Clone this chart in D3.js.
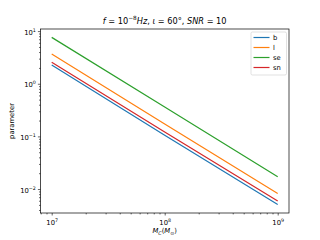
<!DOCTYPE html>
<html><head><meta charset="utf-8">
<script src="https://cdn.jsdelivr.net/npm/d3@7"></script>
<style>body{margin:0;background:#fff}svg{display:block;font-family:"DejaVu Sans",sans-serif}</style>
</head><body><svg id="c" width="320" height="240"></svg>
<script>
const masses = [1e7, 1e8, 1e9];
const seriesNames = ["b", "l", "se", "sn"];
const bValues = [2.26, 0.105, 0.0051];
const lValues = [3.66, 0.172, 0.0082];
const seValues = [7.6, 0.36, 0.0172];
const snValues = [2.55, 0.121, 0.0059];
const colors = ["#1f77b4", "#ff7f0e", "#2ca02c", "#d62728"];
const xTicks = [1e7, 1e8, 1e9];
const yTicks = [1e-2, 1e-1, 1e0, 1e1];

const svg = d3.select("#c");
const L = 40.4, R = 289, T = 29, B = 213;
const x = d3.scaleLog().domain([Math.pow(10, 6.9), Math.pow(10, 9.1)]).range([L, R]);
const y = d3.scaleLog().domain([Math.pow(10, -2.455), Math.pow(10, 1.04)]).range([B, T]);

function expo(d){ return String(Math.round(Math.log10(d))).replace("-", "\u2212"); }
function label(sel){
  sel.each(function(d){
    const t = d3.select(this); t.text("");
    t.append("tspan").text("10");
    t.append("tspan").attr("font-size", 4.8).attr("dy", -3).text(expo(d));
  });
}

function minors(lo, hi){ const a=[]; for(let e=lo;e<=hi;e++){ for(let k=2;k<=9;k++) a.push(k*Math.pow(10,e)); } return a; }
const xMinor = minors(6, 9).filter(v => v >= x.domain()[0] && v <= x.domain()[1]);
const yMinor = minors(-3, 1).filter(v => v >= y.domain()[0] && v <= y.domain()[1]);

// lines
const allSeries = [bValues, lValues, seValues, snValues];
const line = d3.line().x((d,i)=>x(masses[i])).y(d=>y(d));
allSeries.forEach((s, i) => {
  svg.append("path").datum(s).attr("d", line).attr("fill","none")
    .attr("stroke", colors[i]).attr("stroke-width", 1.2);
});

// axes
const xAxis = svg.append("g").attr("transform", `translate(0,${B})`)
  .call(d3.axisBottom(x).tickValues(xTicks).tickFormat(d=>d).tickSizeOuter(0).tickSize(2.5).tickPadding(2.5));
const xAxisMinor = svg.append("g").attr("transform", `translate(0,${B})`)
  .call(d3.axisBottom(x).tickValues(xMinor).tickFormat("").tickSizeOuter(0).tickSize(1.4));
const yAxis = svg.append("g").attr("transform", `translate(${L},0)`)
  .call(d3.axisLeft(y).tickValues(yTicks).tickFormat(d=>d).tickSizeOuter(0).tickSize(2.5).tickPadding(2));
const yAxisMinor = svg.append("g").attr("transform", `translate(${L},0)`)
  .call(d3.axisLeft(y).tickValues(yMinor).tickFormat("").tickSizeOuter(0).tickSize(1.4));
[xAxis, xAxisMinor, yAxis, yAxisMinor].forEach(g => {
  g.select(".domain").remove();
  g.selectAll("line").attr("stroke", "#000").attr("stroke-width", 0.6);
  g.selectAll("text").attr("font-size", 6.8).attr("fill", "#000").attr("font-family", "DejaVu Sans");
});
xAxis.selectAll("text").attr("dy", "1.1em").call(label);
yAxis.selectAll("text").attr("dy", "0.45em").call(label);

// frame
svg.append("rect").attr("x", L).attr("y", T).attr("width", R - L).attr("height", B - T)
  .attr("fill", "none").attr("stroke", "#000").attr("stroke-width", 0.7);

// title
const title = svg.append("text").attr("x", (L + R) / 2).attr("y", 23.5).attr("text-anchor", "middle")
  .attr("font-size", 8.2).attr("fill", "#000");
title.append("tspan").attr("font-style", "italic").text("f");
title.append("tspan").text(" = 10");
title.append("tspan").attr("font-size", 5.8).attr("dy", -3.2).text("\u22128");
title.append("tspan").attr("dy", 3.2).attr("font-style", "italic").text("Hz");
title.append("tspan").text(", ");
title.append("tspan").attr("font-style", "italic").text("\u03B9");
title.append("tspan").text(" = 60\u00B0, ");
title.append("tspan").attr("font-style", "italic").text("SNR");
title.append("tspan").text(" = 10");

// axis labels
const xl = svg.append("text").attr("x", (L + R) / 2).attr("y", 233).attr("text-anchor", "middle")
  .attr("font-size", 6.8).attr("fill", "#000");
xl.append("tspan").attr("font-style", "italic").text("M");
xl.append("tspan").attr("font-style", "italic").attr("font-size", 4.8).attr("dy", 1.5).text("C");
xl.append("tspan").attr("dy", -1.5).text("(");
xl.append("tspan").attr("font-style", "italic").text("M");
xl.append("tspan").attr("font-size", 4.8).attr("dy", 1.5).text("\u2299");
xl.append("tspan").attr("dy", -1.5).text(")");

svg.append("text").attr("transform", `translate(14,${(T + B) / 2}) rotate(-90)`)
  .attr("text-anchor", "middle").attr("font-size", 6.8).attr("fill", "#000").text("parameter");

// legend
const lg = svg.append("g");
lg.append("rect").attr("x", 251).attr("y", 32).attr("width", 35.5).attr("height", 43).attr("rx", 1.5)
  .attr("fill", "#fff").attr("fill-opacity", 0.8).attr("stroke", "#ccc").attr("stroke-width", 0.6);
seriesNames.forEach((n, i) => {
  const yy = 37.5 + i * 10;
  lg.append("line").attr("x1", 253.5).attr("x2", 269.5).attr("y1", yy).attr("y2", yy)
    .attr("stroke", colors[i]).attr("stroke-width", 1.2);
  lg.append("text").attr("x", 273).attr("y", yy + 2.4).attr("font-size", 6.8).attr("fill", "#000").text(n);
});
</script></body></html>
